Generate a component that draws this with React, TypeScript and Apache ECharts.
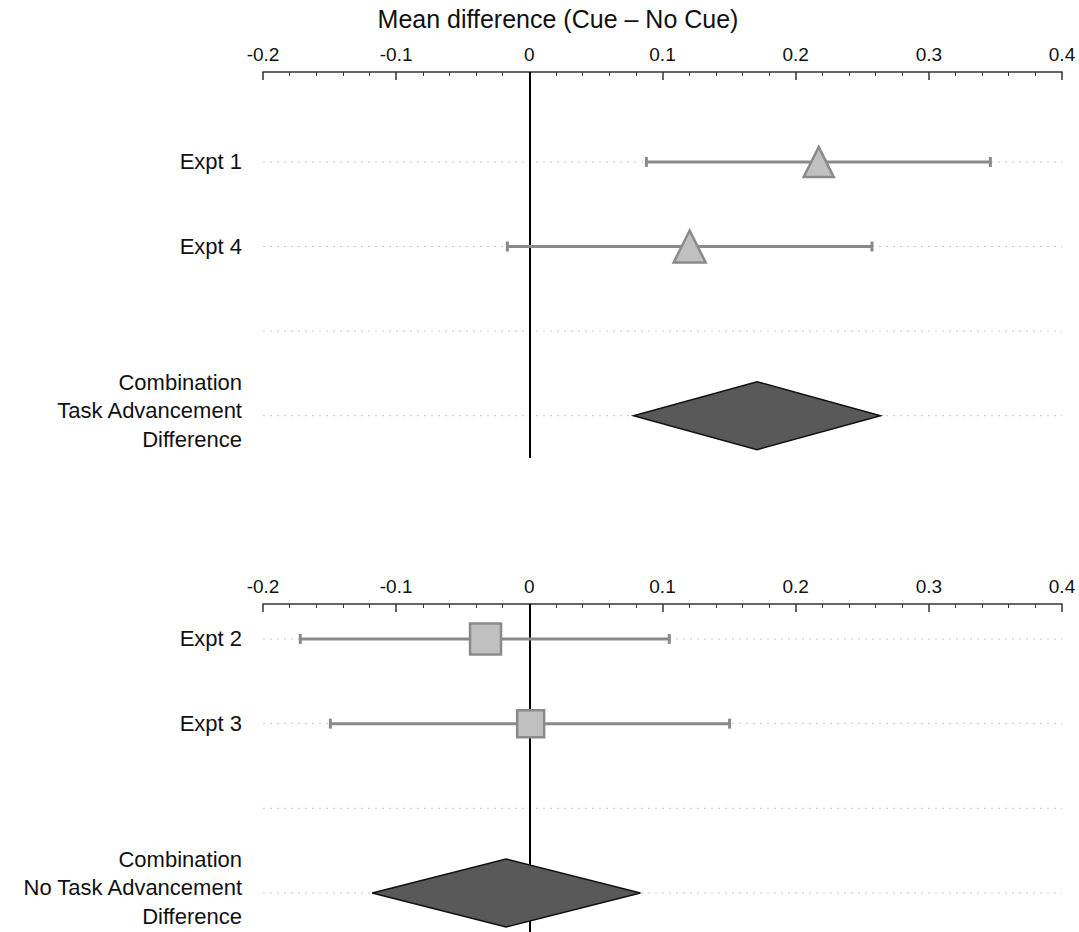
import React, { useEffect, useRef } from "react";
import * as echarts from "echarts";

// ---------- data ----------
const xTickMin = -0.2;
const xTickMax = 0.4;
const xTickStep = 0.1;
const axisTitle = "Mean difference (Cue \u2013 No Cue)";

// top panel (Task Advancement)
const topLabels = ["Expt 1", "Expt 4", "", "Combination\nTask Advancement\nDifference"];
const topRowsIdx = [0, 1, 2, 3];
const topLabelRows = [0, 1, 2.94];
const topStudyRows = [0, 1];
const topMeans = [0.2173, 0.1204];
const topLower = [0.0879, -0.0165];
const topUpper = [0.3462, 0.2573];
const topMarkerSizes = [30, 32];
const topPooledRow = [3];
const topPooledMean = [0.171];
const topPooledLower = [0.0783];
const topPooledUpper = [0.2637];

// bottom panel (No Task Advancement)
const bottomLabels = ["Expt 2", "Expt 3", "", "Combination\nNo Task Advancement\nDifference"];
const bottomRowsIdx = [0, 1, 2, 3];
const bottomLabelRows = [0, 1, 2.94];
const bottomStudyRows = [0, 1];
const bottomMeans = [-0.0329, 0.001];
const bottomLower = [-0.172, -0.1494];
const bottomUpper = [0.1051, 0.1504];
const bottomMarkerSizes = [31, 27];
const bottomPooledRow = [3];
const bottomPooledMean = [-0.0175];
const bottomPooledLower = [-0.118];
const bottomPooledUpper = [0.0834];

// ---------- styles ----------
const FONT = "'Liberation Sans', Arial, Helvetica, sans-serif";
const WHISKER = "#8a8a8a";
const MARK_FILL = "#c0c0c0";
const DIAMOND_FILL = "#595959";

function buildPanel(
  gi: number,
  rows: number[],
  studyRows: number[],
  means: number[],
  lower: number[],
  upper: number[],
  sizes: number[],
  symbol: string,
  pRow: number[],
  pMean: number[],
  pLow: number[],
  pUp: number[]
) {
  const series: any[] = [];
  // dotted row guides
  rows.forEach((r) => {
    series.push({
      type: "line",
      xAxisIndex: gi,
      yAxisIndex: gi,
      data: [
        [xTickMin, r],
        [xTickMax, r],
      ],
      symbol: "none",
      silent: true,
      z: 1,
      lineStyle: { color: "#c8c8c8", width: 1, type: [2, 5] },
    });
  });
  // zero line
  series.push({
    type: "line",
    xAxisIndex: gi,
    yAxisIndex: gi,
    data: [],
    z: 2,
    markLine: {
      silent: true,
      symbol: "none",
      label: { show: false },
      lineStyle: { color: "#000", width: 2, type: "solid" },
      data: [{ xAxis: 0 }],
      z: 2,
    },
  });
  // whiskers
  series.push({
    type: "custom",
    xAxisIndex: gi,
    yAxisIndex: gi,
    z: 3,
    data: studyRows.map((r, i) => [lower[i], upper[i], r]),
    renderItem: (params: any, api: any) => {
      const p1 = api.coord([api.value(0), api.value(2)]);
      const p2 = api.coord([api.value(1), api.value(2)]);
      const cap = 5;
      const st = { stroke: WHISKER, lineWidth: 3 };
      return {
        type: "group",
        children: [
          { type: "line", shape: { x1: p1[0], y1: p1[1], x2: p2[0], y2: p2[1] }, style: st },
          { type: "line", shape: { x1: p1[0], y1: p1[1] - cap, x2: p1[0], y2: p1[1] + cap }, style: st },
          { type: "line", shape: { x1: p2[0], y1: p2[1] - cap, x2: p2[0], y2: p2[1] + cap }, style: st },
        ],
      };
    },
  });
  // point markers
  series.push({
    type: "scatter",
    xAxisIndex: gi,
    yAxisIndex: gi,
    z: 4,
    symbol,
    data: studyRows.map((r, i) => ({ value: [means[i], r], symbolSize: [sizes[i], sizes[i]] })),
    itemStyle: { color: MARK_FILL, borderColor: WHISKER, borderWidth: 2.5, opacity: 1 },
  });
  // pooled diamond
  series.push({
    type: "custom",
    xAxisIndex: gi,
    yAxisIndex: gi,
    z: 4,
    data: pRow.map((r, i) => [pLow[i], pMean[i], pUp[i], r]),
    renderItem: (params: any, api: any) => {
      const y = api.value(3);
      const l = api.coord([api.value(0), y]);
      const m = api.coord([api.value(1), y]);
      const u = api.coord([api.value(2), y]);
      const h = 34;
      return {
        type: "polygon",
        shape: {
          points: [
            [l[0], l[1]],
            [m[0], m[1] - h],
            [u[0], u[1]],
            [m[0], m[1] + h],
          ],
        },
        style: { fill: DIAMOND_FILL, stroke: "#111", lineWidth: 1.5 },
      };
    },
  });
  return series;
}

function xAxisDef(gi: number) {
  return {
    type: "value",
    gridIndex: gi,
    position: "top",
    min: xTickMin,
    max: xTickMax,
    interval: xTickStep,
    axisLine: { show: true, onZero: false, lineStyle: { color: "#333", width: 1.5 } },
    axisTick: { show: true, inside: true, length: 8, lineStyle: { color: "#333", width: 1.5 } },
    minorTick: { show: true, splitNumber: 5, length: 4, lineStyle: { color: "#333", width: 1 } },
    splitLine: { show: false },
    minorSplitLine: { show: false },
    axisLabel: {
      fontFamily: FONT,
      fontSize: 19,
      color: "#111",
      margin: 8,
      formatter: (v: number) => String(Math.round(v * 10) / 10),
    },
  };
}

function yAxisDef(gi: number, labels: string[], min: number, max: number, vals: number[]) {
  return {
    type: "value",
    gridIndex: gi,
    inverse: true,
    min,
    max,
    axisLine: { show: false, onZero: false },
    axisTick: { show: false },
    splitLine: { show: false },
    axisLabel: {
      show: true,
      customValues: vals,
      fontFamily: FONT,
      fontSize: 22,
      lineHeight: 28.5,
      color: "#111",
      align: "right",
      margin: 21,
      formatter: (v: number) => labels[Math.round(v)] || "",
    },
  };
}

export default function App() {
  const ref = useRef<HTMLDivElement>(null);
  useEffect(() => {
    if (!ref.current) return;
    const chart = echarts.init(ref.current, undefined, { renderer: "svg" });
    const option: any = {
      animation: false,
      backgroundColor: "#fff",
      textStyle: { fontFamily: FONT },
      title: {
        text: axisTitle,
        left: 558,
        top: 6,
        textAlign: "center",
        padding: 0,
        textStyle: { fontFamily: FONT, fontSize: 25, fontWeight: "normal", color: "#111" },
      },
      grid: [
        { left: 263, right: 17, top: 72, height: 386, outerBoundsMode: "none", containLabel: false },
        { left: 263, right: 17, top: 604, height: 328, outerBoundsMode: "none", containLabel: false },
      ],
      xAxis: [xAxisDef(0), xAxisDef(1)],
      yAxis: [
        yAxisDef(0, topLabels, -1.063, 3.5, topLabelRows),
        yAxisDef(1, bottomLabels, -0.413, 3.461, bottomLabelRows),
      ],
      series: [
        ...buildPanel(0, topRowsIdx, topStudyRows, topMeans, topLower, topUpper, topMarkerSizes, "triangle", topPooledRow, topPooledMean, topPooledLower, topPooledUpper),
        ...buildPanel(1, bottomRowsIdx, bottomStudyRows, bottomMeans, bottomLower, bottomUpper, bottomMarkerSizes, "rect", bottomPooledRow, bottomPooledMean, bottomPooledLower, bottomPooledUpper),
      ],
    };
    chart.setOption(option);
    return () => chart.dispose();
  }, []);
  return (
    <div
      ref={ref}
      style={{ position: "absolute", left: 0, top: 0, width: 1079, height: 932, background: "#fff" }}
    />
  );
}
